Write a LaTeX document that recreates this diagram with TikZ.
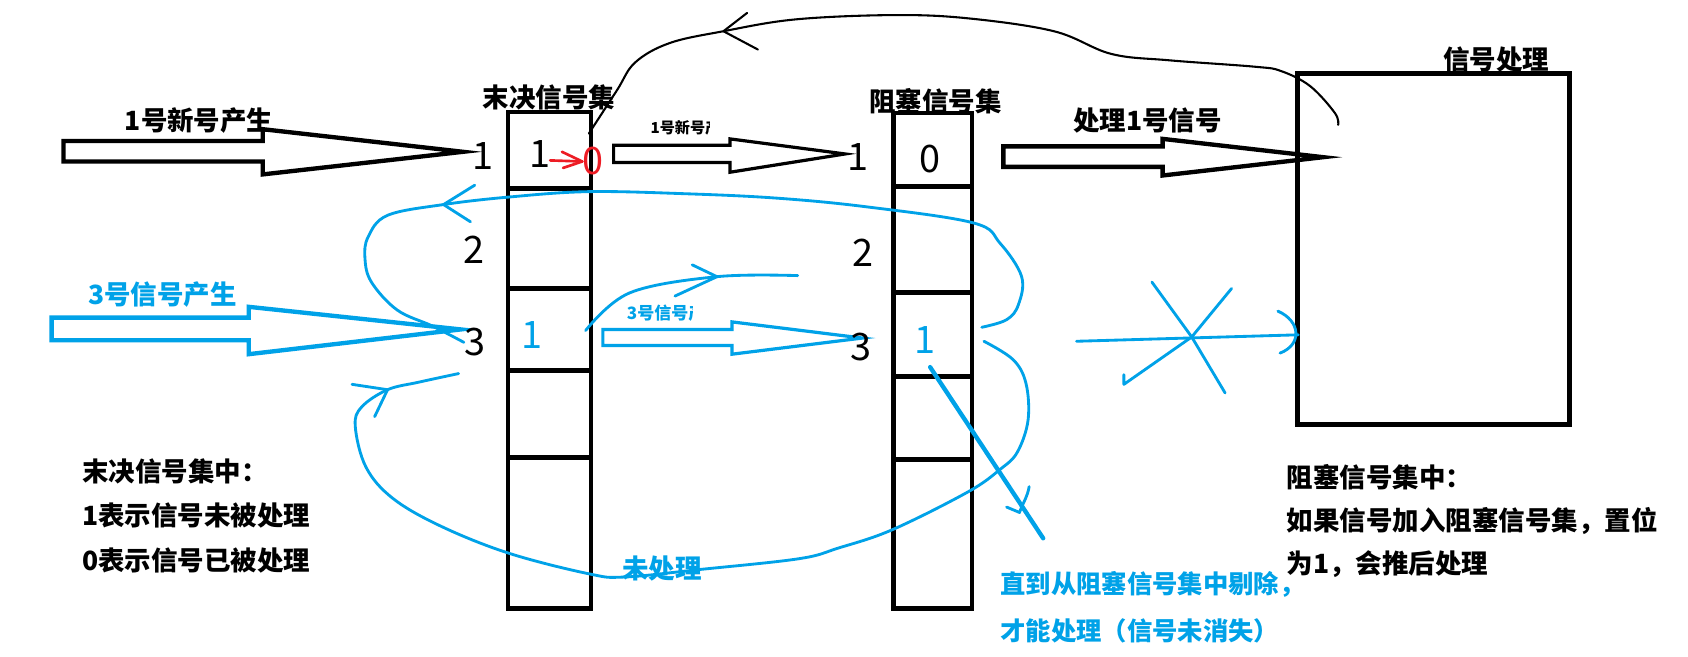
\documentclass[tikz,border=0pt]{standalone}
\usepackage{fontspec}
\setmainfont{Noto Sans CJK SC}
\usepackage{tikz}
\usetikzlibrary{
  arrows.meta,
  positioning,
  calc
}
\definecolor{paintblue}{RGB}{0,162,232}
\definecolor{paintred}{RGB}{237,28,36}

\begin{document}
\begin{tikzpicture}[x=0.02cm,y=-0.02cm,
  cell/.style ={line width=2.5pt},
  fat/.style  ={line width=2.3pt,line join=miter},
  thinfat/.style={line width=1.7pt,line join=miter},
  pen/.style  ={line width=1.1pt,line cap=round,line join=round},
  bpen/.style ={line width=1.5pt,line cap=round,line join=round,paintblue},
  title/.style={font=\bfseries\fontsize{14}{16}\selectfont,inner sep=0pt},
  note/.style ={font=\bfseries\fontsize{14}{16}\selectfont,anchor=west,inner sep=0pt},
  small/.style={font=\bfseries\fontsize{8}{9}\selectfont,anchor=west,inner sep=0pt},
  hand/.style ={font=\fontsize{20}{20}\selectfont,inner sep=0pt},
]
\useasboundingbox[fill=white] (0,0) rectangle (1568,610);

% the three sets
\draw[cell] (472,104) rectangle (549,565);
\foreach \y in {175,268,344,425} \draw[cell] (472,\y) -- (549,\y);
\draw[cell] (830,105) rectangle (903,565);
\foreach \y in {173,272,350,427} \draw[cell] (830,\y) -- (903,\y);
\draw[cell] (1205,68) rectangle (1458,394);

\node[title] (pendtitle) at (510,90) {末决信号集};
\node[title] (blktitle)  at (869,94) {阻塞信号集};
\node[title] (proctitle) at (1390,55) {信号处理};

% hollow arrows, black
\draw[fat] (59,131) -- (244,131) -- (244,120) -- (430,141) -- (244,162)
  -- (244,150) -- (59,150) -- cycle;
\node[title] (sig1new) at (185,112) {1号新号产生};
\draw[thinfat] (570,135) -- (678,135) -- (678,129) -- (785,143) -- (678,160)
  -- (678,151) -- (570,151) -- cycle;
\begin{scope}
  \clip (600,105) rectangle (659,135);
  \node[small] (sig1pass) at (604,119) {1号新号产生};
\end{scope}
\draw[fat] (932,136) -- (1080,136) -- (1080,129) -- (1229,146) -- (1080,163)
  -- (1080,155) -- (932,155) -- cycle;
\node[title] (sig1do) at (1066,112) {处理1号信号};

% hollow arrows, blue
\draw[fat,paintblue] (48,295) -- (231,295) -- (231,285) -- (428,306) -- (231,329)
  -- (231,316) -- (48,316) -- cycle;
\node[title,text=paintblue] (sig3new) at (151,274) {3号信号产生};
\draw[thinfat,paintblue] (560,306) -- (680,306) -- (680,299) -- (801,314) -- (680,329)
  -- (680,321) -- (560,321) -- cycle;
\begin{scope}
  \clip (575,280) rectangle (643,302);
  \node[small,text=paintblue,font=\bfseries\fontsize{9}{10}\selectfont] (sig3pass) at (582,291) {3号信号产生};
\end{scope}

% handwritten bits
\node[hand] (p1)  at (449,145) {1};
\node[hand] (p1v) at (502,143) {1};
\node[hand,text=paintred] (p1z) at (551,150) {0};
\coordinate (redfrom) at (511,149);
\draw[pen,paintred,line width=1.4pt] (redfrom) -- (p1z.west);
\draw[pen,paintred,line width=1.4pt] (522,141) -- (p1z.west) -- (523,156);
\node[hand] (b1)  at (797,146) {1};
\node[hand] (b1v) at (864,148) {0};
\node[hand] (p2)  at (440,232) {2};
\node[hand] (p3)  at (441,318) {3};
\node[hand,text=paintblue] (p3v) at (494,311) {1};
\node[hand] (b2)  at (802,235) {2};
\node[hand] (b3)  at (800,322) {3};
\node[hand,text=paintblue] (b3v) at (859,316) {1};

% back from the handler to the pending set
\coordinate (fbs) at (1243,116);
\coordinate (fbe) at (547,124);
\draw[pen] plot[smooth,tension=0.6] coordinates {(fbs) (1240,105) (1217,80)
  (1190,66) (1166,62) (1086,56) (1032,50) (979,29) (899,17) (830,14)
  (739,18) (672,29) (622,40) (590,58) (573,84) (fbe)};
\draw[pen] (694,12) -- (672,29) -- (704,46);

% blue loops: not processed
\coordinate (topin)  at (912,304);
\coordinate (botin)  at (914,317);
\draw[bpen] plot[smooth,tension=0.6] coordinates {(topin) (935,297) (946,283)
  (949,257) (929,226) (904,207) (804,192) (721,184) (638,180) (547,178)
  (473,183) (412,190) (360,200) (342,220) (339,240) (345,262) (369,288)
  (402,303) (p3.west)};
\draw[bpen] (441,172) -- (412,190) -- (437,206);
\draw[bpen] plot[smooth,tension=0.6] coordinates {(botin) (941,334) (953,356)
  (955,390) (945,420) (929,436) (899,457) (829,492) (779,509) (742,519)
  (650,529) (580,536) (547,533) (473,514) (410,489) (365,463) (340,434)
  (330,396) (336,378) (360,362) (389,355) (426,347)};
\draw[bpen] (327,357) -- (360,362) -- (348,387);
\node[title,text=paintblue] (notdone) at (615,528) {未处理};

\draw[bpen] plot[smooth,tension=0.6] coordinates {(544,307) (585,272)
  (666,257) (741,256)};
\draw[bpen] (643,246) -- (666,257) -- (627,275);

% blocked: crossed out
\draw[bpen,line width=2.3pt] (864,341) -- (969,500);
\draw[bpen] (956,452) to[out=260,in=70] (947,476) -- (935,471);
\draw[bpen] (1000,317) -- (1206,311);
\draw[bpen] (1187,289) .. controls (1208,298) and (1210,320) .. (1189,328);
\draw[bpen] (1070,262) -- (1107,313) -- (1138,365);
\draw[bpen] (1144,268) -- (1107,313) -- (1044,357) -- (1044,348);

% notes
\node[note] (pendn1) at (76,438) {末决信号集中：};
\node[note] (pendn2) at (76,479) {1表示信号未被处理};
\node[note] (pendn3) at (76,521) {0表示信号已被处理};
\node[note] (blkn1) at (1195,443) {阻塞信号集中：};
\node[note] (blkn2) at (1195,484) {如果信号加入阻塞信号集，置位};
\node[note] (blkn3) at (1195,524) {为1，会推后处理};
\node[note,text=paintblue,font=\bfseries\fontsize{13.4}{16}\selectfont] (untiln1) at (929,543) {直到从阻塞信号集中剔除，};
\node[note,text=paintblue,font=\bfseries\fontsize{13.4}{16}\selectfont] (untiln2) at (929,586) {才能处理（信号未消失）};
\end{tikzpicture}
\end{document}
